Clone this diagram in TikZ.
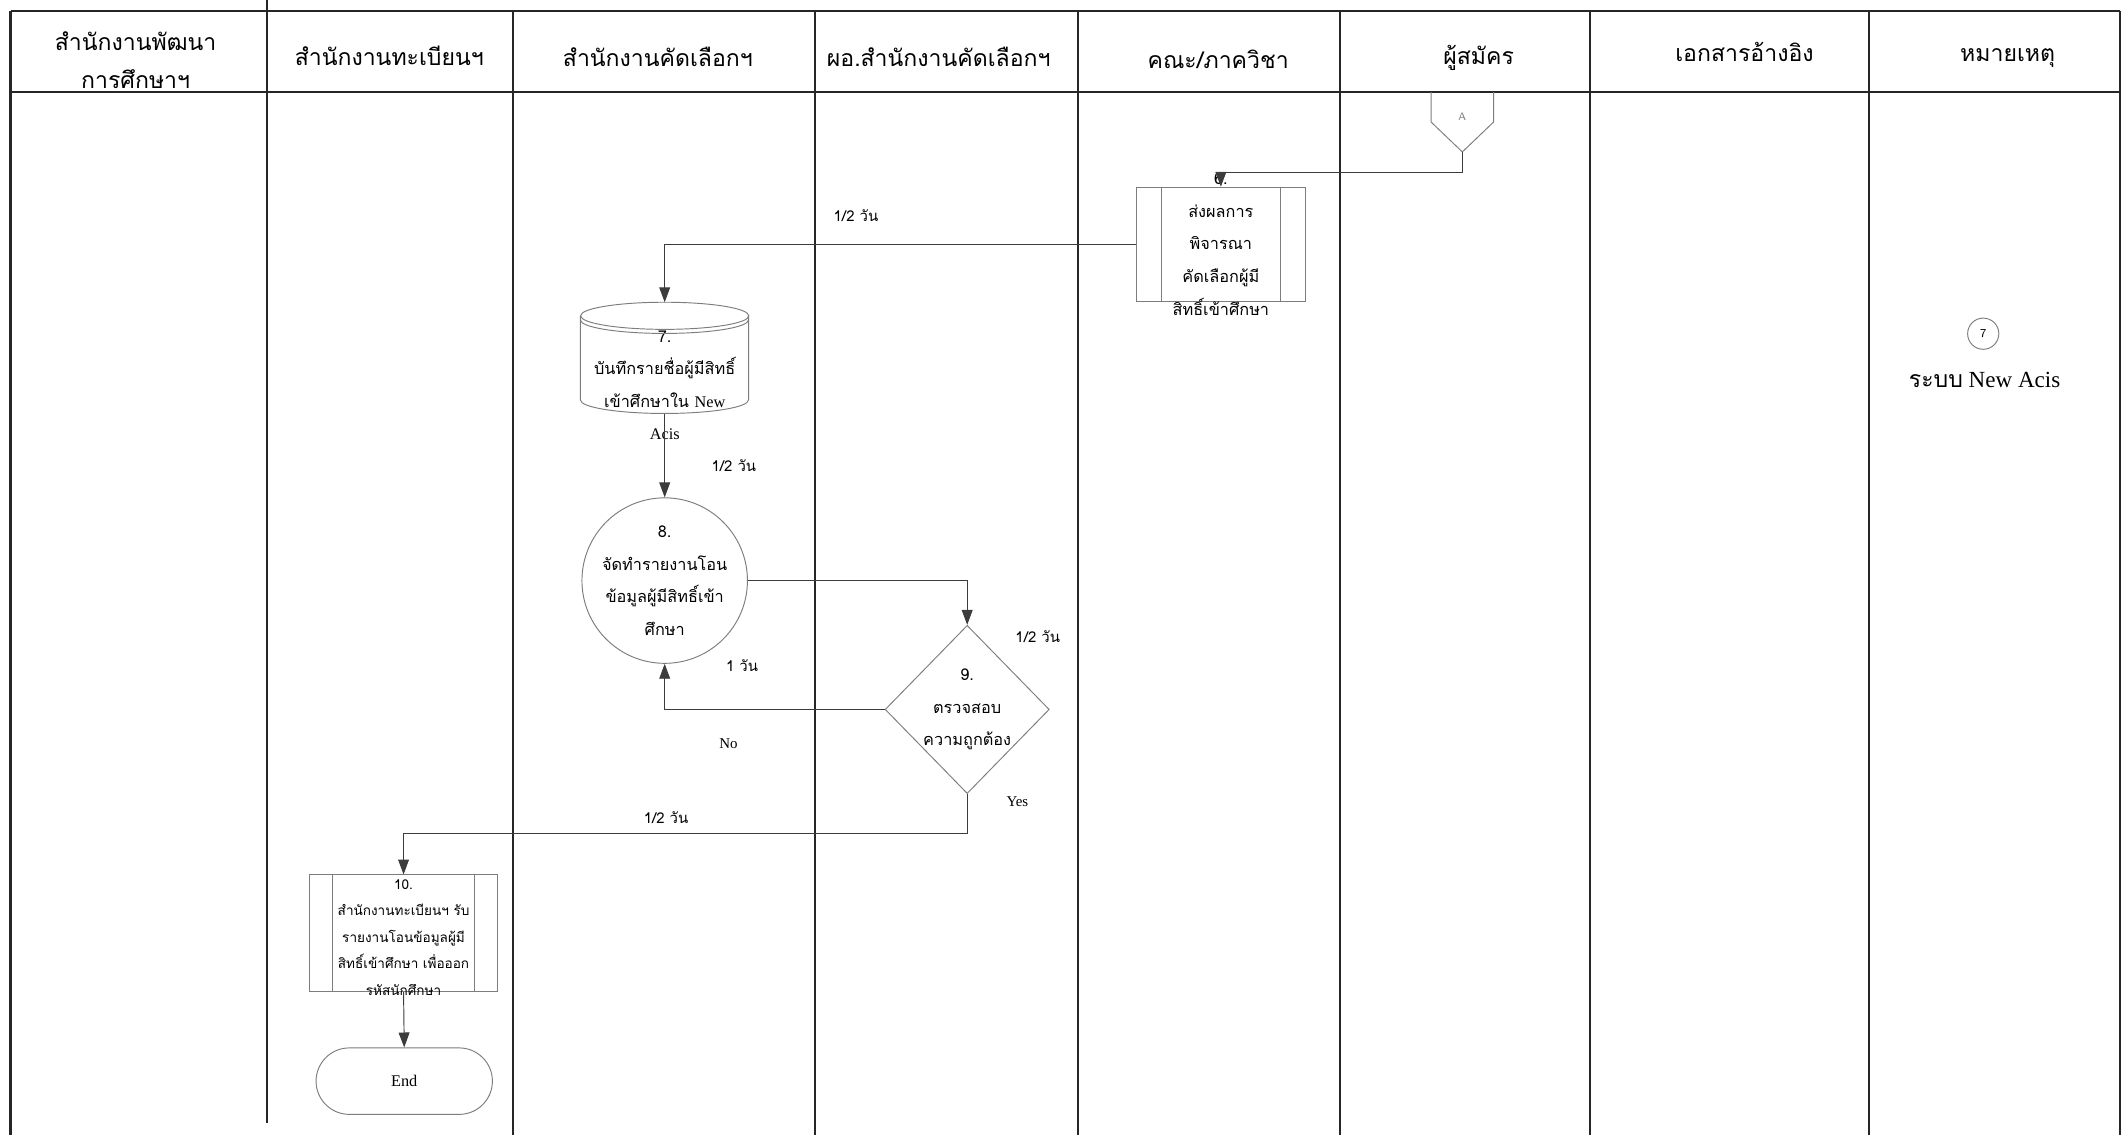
\documentclass[tikz,border=0pt]{standalone}
\usepackage{fontspec}
\setmainfont{Liberation Serif}
\newfontfamily\thaifont[Script=Thai]{Loma}
\usetikzlibrary{arrows.meta,shapes.geometric,shapes.misc}
\definecolor{shapegray}{RGB}{125,125,125}
\definecolor{flowgray}{RGB}{60,60,60}
\tikzset{every picture/.style={x=1pt,y=-1pt}}
\tikzset{lane/.style={line width=1.4pt, black!85}}
\tikzset{flow/.style={draw=flowgray, line width=0.7pt, -{Triangle[length=11pt,width=8pt]}}}
\tikzset{outline/.style={draw=shapegray, line width=0.7pt, inner sep=0pt}}
\tikzset{head/.style={font=\thaifont\fontsize{17}{28}\selectfont, align=center}}
\tikzset{txt/.style={font=\thaifont\fontsize{12}{24}\selectfont, align=center}}
\tikzset{small txt/.style={font=\thaifont\fontsize{10}{19.5}\selectfont, align=center}}
\tikzset{time/.style={font=\thaifont\fontsize{11}{13}\selectfont}}
\tikzset{predef/.style={outline, rectangle, path picture={\draw[shapegray, line width=0.7pt] ([xshift=#1]path picture bounding box.north west) -- ([xshift=#1]path picture bounding box.south west) ([xshift=-#1]path picture bounding box.north east) -- ([xshift=-#1]path picture bounding box.south east);}}}
\newcommand{\lat}[1]{{\rmfamily #1}}

\begin{document}
\begin{tikzpicture}
        \useasboundingbox (0,0) rectangle (1568,837);
        \foreach \x in {378,601,795,988,1172,1378} \draw[lane] (\x,8) -- (\x,837);
        \draw[lane] (197,0) -- (197,828);
        \draw[lane, line width=2pt] (8,8) -- (8,837);
        \draw[lane] (1563,8) -- (1563,837);
        \draw[lane] (8,8) -- (1563,8);
        \draw[lane] (8,68) -- (1563,68);

        \node[head] (h1) at (100,44) {สำนักงานพัฒนา\\การศึกษาฯ};
        \node[head] (h2) at (287,41) {สำนักงานทะเบียนฯ};
        \node[head] (h3) at (485,42) {สำนักงานคัดเลือกฯ};
        \node[head] (h4) at (692,42) {ผอ.สำนักงานคัดเลือกฯ};
        \node[head] (h5) at (898,44) {คณะ/ภาควิชา};
        \node[head] (h6) at (1090,43) {ผู้สมัคร};
        \node[head] (h7) at (1286,38) {เอกสารอ้างอิง};
        \node[head] (h8) at (1480,43) {หมายเหตุ};

        \draw[outline] (1055,68) -- (1055,90) -- (1078,112) coordinate (Atip) -- (1101,90) -- (1101,68);
        \node[font=\sffamily\fontsize{8}{9}\selectfont, text=shapegray] (conA) at (1078,86) {A};

        \node[predef=18, minimum width=124, minimum height=84, label={[txt]center:{6.\\ส่งผลการ\\พิจารณา\\คัดเลือกผู้มี\\สิทธิ์เข้าศึกษา}}] (p6) at (900,180) {};
        \node[inner sep=0pt, minimum width=124, minimum height=82, label={[txt, yshift=-20]center:{7.\\บันทึกรายชื่อผู้มีสิทธิ์\\เข้าศึกษาใน \lat{New}\\\lat{Acis}}}] (db7) at (490,264) {};
        \draw[outline] (db7.north) ++(0,10) ellipse [x radius=62pt, y radius=10pt];
        \draw[outline] (db7.north west) ++(0,13) arc[start angle=180, end angle=360, x radius=62pt, y radius=10pt];
        \draw[outline] (db7.north west) ++(0,10) -- ++(0,62) arc[start angle=180, end angle=360, x radius=62pt, y radius=10pt] -- ++(0,-62);
        \node[outline, circle, minimum size=122, label={[txt]center:{8.\\จัดทำรายงานโอน\\ข้อมูลผู้มีสิทธิ์เข้า\\ศึกษา}}] (c8) at (490,428) {};
        \node[outline, diamond, minimum width=121, minimum height=124, label={[txt]center:{9.\\ตรวจสอบ\\ความถูกต้อง}}] (d9) at (713,523) {};
        \node[predef=17, minimum width=139, minimum height=86, label={[small txt, yshift=-3]center:{10.\\สำนักงานทะเบียนฯ รับ\\รายงานโอนข้อมูลผู้มี\\สิทธิ์เข้าศึกษา เพื่อออก\\รหัสนักศึกษา}}] (p10) at (297.5,688) {};
        \node[outline, rounded rectangle, minimum width=130, minimum height=49, font=\fontsize{12}{14}\selectfont] (end) at (298,797) {End};

        \node[time] (t6) at (631,159) {1/2 วัน};
        \node[time] (t7) at (541,343) {1/2 วัน};
        \node[time] (t8) at (765,469) {1/2 วัน};
        \node[time] (t9no) at (547,491) {1 วัน};
        \node[time] (t9yes) at (491,603) {1/2 วัน};
        \node[font=\fontsize{11}{13}\selectfont] (no) at (537,548) {No};
        \node[font=\fontsize{11}{13}\selectfont] (yes) at (750,591) {Yes};

        \draw[flow] (Atip) -- ++(0,15) -| (p6.north);
        \draw[flow] (p6.west) -| (db7.north);
        \draw[flow] (db7.south) -- (c8.north);
        \draw[flow] (c8.east) -| (d9.north);
        \draw[flow] (d9.west) -| (c8.south);
        \draw[flow] (d9.south) -- ++(0,29) -| (p10.north);
        \draw[flow] (p10.south) -- (end.north);

        \node[outline, circle, minimum size=23, font=\sffamily\fontsize{9}{10}\selectfont] (n7) at (1462,246) {7};
        \node[font=\fontsize{17}{20}\selectfont] (acis) at (1463,280) {{\thaifont ระบบ} New Acis};
\end{tikzpicture}
\end{document}
